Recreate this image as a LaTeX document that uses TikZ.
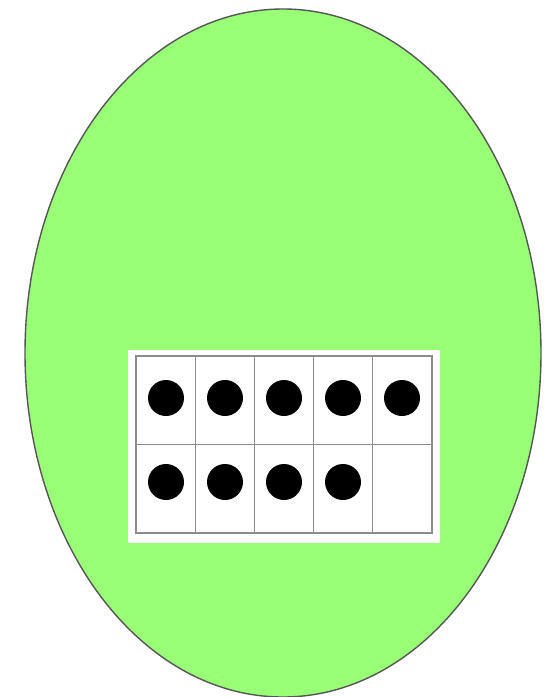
\documentclass[tikz,border=0pt]{standalone}
\usepackage{tikz}
\usetikzlibrary{positioning}
\definecolor{eggreen}{RGB}{153,255,119}
\definecolor{rimgray}{RGB}{85,85,85}
\definecolor{gridgray}{RGB}{140,140,140}

\tikzset{
  cell/.style={draw=gridgray, line width=1.3pt, inner sep=0pt,
    minimum width=59.2pt, minimum height=88.5pt},
  counter/.style={circle, fill=black, inner sep=0pt, minimum size=36pt}
}

\begin{document}
\begin{tikzpicture}[x=1pt,y=-1pt]
\useasboundingbox (0,0) rectangle (552,697);
\draw[fill=eggreen, draw=rimgray, line width=1.4pt] (283,353) ellipse (258 and 344);
\node[fill=white, inner sep=0pt, minimum width=312pt, minimum height=193pt] (frame) at (284,446.5) {};
\foreach \i in {0,...,4} {
  \node[cell] (top\i) at (165.6+59.2*\i,400.25) {};
  \node[cell] (bot\i) at (165.6+59.2*\i,488.75) {};
}
\foreach \i in {0,...,4}
  \node[counter] (dtop\i) at (166+59*\i,398) {};
\foreach \i in {0,...,3}
  \node[counter] (dbot\i) at (166+59*\i,482) {};
\end{tikzpicture}
\end{document}
